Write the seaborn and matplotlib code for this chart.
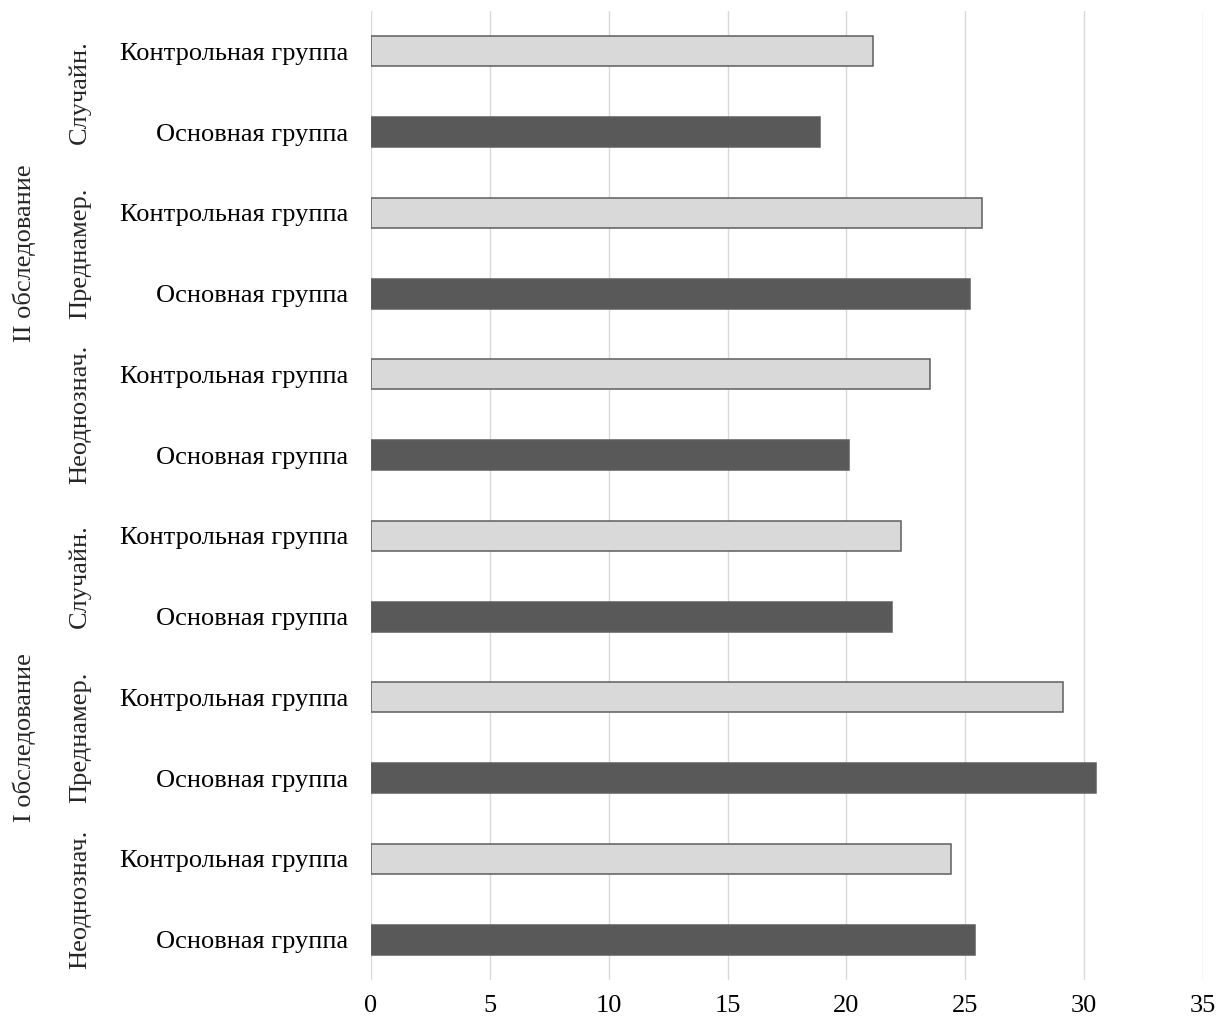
import matplotlib
matplotlib.use("Agg")
import matplotlib.pyplot as plt
import matplotlib.transforms as mtransforms
import pandas as pd
import seaborn as sns

# Survey rounds, task types and groups (listed bottom to top as in the chart)
rounds = ["I обследование", "II обследование"]
task_types = ["Неоднознач.", "Преднамер.", "Случайн."]
groups = ["Основная группа", "Контрольная группа"]

# Values per round, task type and group (Основная, Контрольная)
values_round1 = {
    "Неоднознач.": [25.4, 24.4],
    "Преднамер.": [30.5, 29.1],
    "Случайн.": [21.9, 22.3],
}
values_round2 = {
    "Неоднознач.": [20.1, 23.5],
    "Преднамер.": [25.2, 25.7],
    "Случайн.": [18.9, 21.1],
}
x_ticks = [0, 5, 10, 15, 20, 25, 30, 35]

rows = []
for rnd, vals in zip(rounds, [values_round1, values_round2]):
    for tt in task_types:
        for g, v in zip(groups, vals[tt]):
            rows.append({"round": rnd, "task": tt, "group": g, "value": v,
                         "key": f"{rnd}|{tt}|{g}"})
df = pd.DataFrame(rows)
# seaborn puts the first category at the top, so reverse the order
order = list(df["key"])[::-1]

sns.set_theme(style="white")
plt.rcParams["font.family"] = ["Liberation Serif", "DejaVu Serif"]

FS = 19

fig = plt.figure(figsize=(12.32, 10.17), dpi=100)
ax = fig.add_axes([0.3011, 0.0364, 0.9765 - 0.3011, 0.9892 - 0.0364])

palette = {"Основная группа": "#595959", "Контрольная группа": "#D9D9D9"}
sns.barplot(data=df, x="value", y="key", hue="group", order=order,
            palette=palette, orient="h", dodge=False, width=0.37,
            edgecolor="#5E5E5E", linewidth=1.1, saturation=1, legend=False,
            ax=ax, zorder=3)

ax.set_xlim(0, 35)
ax.set_xticks(x_ticks)
ax.set_xticklabels([str(t) for t in x_ticks])
ax.set_ylim(len(order) - 0.5, -0.5)
ax.grid(axis="x", color="#D9D9D9", linewidth=1.0, zorder=0)
ax.set_axisbelow(True)
for s in ax.spines.values():
    s.set_visible(False)
ax.tick_params(axis="both", length=0, labelsize=FS, colors="black")
ax.tick_params(axis="y", pad=16.5)
ax.tick_params(axis="x", pad=10.5)
ax.set_yticks(range(len(order)))
ax.set_yticklabels([k.split("|")[2] for k in order])
ax.set_xlabel("")
ax.set_ylabel("")

# Multi-level category labels on the left
trans = mtransforms.blended_transform_factory(fig.transFigure, ax.transData)
keys = order
for rnd in rounds:
    for tt in task_types:
        idx = [i for i, k in enumerate(keys) if k.startswith(f"{rnd}|{tt}|")]
        ax.text(80 / 1232, sum(idx) / len(idx), tt, rotation=90,
                ha="center", va="center", fontsize=FS, transform=trans)
    idx = [i for i, k in enumerate(keys) if k.startswith(f"{rnd}|")]
    ax.text(24 / 1232, sum(idx) / len(idx), rnd, rotation=90,
            ha="center", va="center", fontsize=FS, transform=trans)

fig.savefig("out.png", dpi=100, facecolor="white")
